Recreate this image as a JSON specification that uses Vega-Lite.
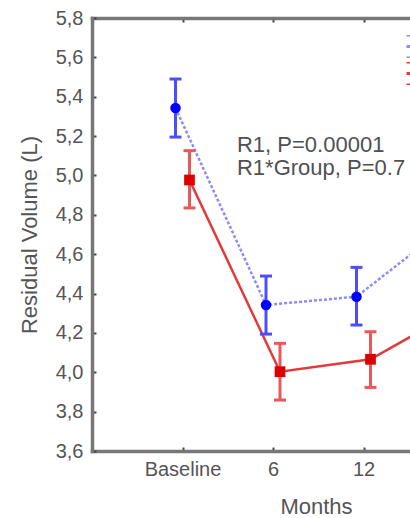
{
  "$schema": "https://vega.github.io/schema/vega-lite/v6.json",
  "width": 318,
  "height": 433,
  "autosize": {"type": "none"},
  "padding": {"left": 92, "top": 18, "right": 0, "bottom": 67},
  "background": "white",
  "config": {
    "view": {"stroke": null},
    "font": "Liberation Sans",
    "axis": {
      "grid": false,
      "domainColor": "#777777",
      "domainWidth": 3.5,
      "domainCap": "square",
      "ticks": true,
      "tickColor": "#444444",
      "tickWidth": 2,
      "tickSize": -4,
      "labelColor": "#555555",
      "labelFont": "Liberation Sans",
      "labelFontSize": 20,
      "labelOverlap": false,
      "titleColor": "#555555",
      "titleFont": "Liberation Sans",
      "titleFontSize": 22,
      "titleFontWeight": "normal"
    }
  },
  "data": {
    "values": [
      {"group": "A", "visit": 0, "month": "Baseline", "mean": 5.343, "lo": 5.195, "hi": 5.49},
      {"group": "A", "visit": 1, "month": "6", "mean": 4.342, "lo": 4.194, "hi": 4.489},
      {"group": "A", "visit": 2, "month": "12", "mean": 4.384, "lo": 4.24, "hi": 4.533},
      {"group": "A", "visit": 3, "month": "24", "mean": 4.742, "lo": 4.6, "hi": 4.89},
      {"group": "B", "visit": 0, "month": "Baseline", "mean": 4.977, "lo": 4.835, "hi": 5.126},
      {"group": "B", "visit": 1, "month": "6", "mean": 4.003, "lo": 3.859, "hi": 4.147},
      {"group": "B", "visit": 2, "month": "12", "mean": 4.066, "lo": 3.923, "hi": 4.206},
      {"group": "B", "visit": 3, "month": "24", "mean": 4.325, "lo": 4.18, "hi": 4.47}
    ]
  },
  "resolve": {"axis": {"x": "independent"}},
  "layer": [
    {
      "transform": [{"filter": "datum.group === 'A'"}],
      "mark": {"type": "line", "clip": true, "xOffset": -7, "strokeWidth": 2.5, "strokeDash": [3, 2]},
      "encoding": {
        "x": {"field": "visit", "type": "quantitative",
              "scale": {"domain": [-1, 2.5138], "nice": false, "zero": false},
              "axis": {"orient": "bottom", "title": "Months", "values": [0, 1, 2], "tickCount": 10,
                       "labelExpr": "['Baseline','6','12','24'][datum.value]",
                       "labelPadding": 12, "titlePadding": 17, "titleX": 224}},
        "y": {"field": "mean", "type": "quantitative",
              "scale": {"domain": [3.6, 5.8], "nice": false, "zero": false},
              "title": "Residual Volume (L)",
              "axis": {"orient": "left", "tickCount": 20,
                       "values": [3.6, 3.8, 4.0, 4.2, 4.4, 4.6, 4.8, 5.0, 5.2, 5.4, 5.6, 5.8],
                       "labelExpr": "replace(format(datum.value, '.1f'), '.', ',')",
                       "labelOverlap": false,
                       "labelPadding": 13, "titlePadding": 14}},
        "color": {"field": "group", "type": "nominal",
                  "scale": {"domain": ["A", "B"], "range": ["#8c8cff", "#e23a3a"]},
                  "legend": {"orient": "none", "legendX": 313, "legendY": 17, "title": null,
                             "symbolType": "M-1,-1H1M-1,1H1M0,-1V1M-1,0H1",
                             "symbolSize": 529, "symbolStrokeWidth": 3,
                             "symbolDash": [],
                             "symbolFillColor": "transparent", "padding": 0,
                             "clipHeight": 23, "rowPadding": 4,
                             "labelExpr": "''", "labelFontSize": 10}}
      }
    },
    {
      "transform": [{"filter": "datum.group === 'B'"}],
      "mark": {"type": "line", "clip": true, "xOffset": 7, "strokeWidth": 2.5},
      "encoding": {
        "x": {"field": "visit", "type": "quantitative",
              "axis": {"orient": "top", "title": null, "labels": false, "values": [0, 1, 2], "tickCount": 10}},
        "y": {"field": "mean", "type": "quantitative", "title": "Residual Volume (L)"},
        "color": {"field": "group", "type": "nominal"}
      }
    },
    {
      "transform": [{"filter": "datum.group === 'A'"}],
      "mark": {"type": "rule", "clip": true, "xOffset": -7, "strokeWidth": 3, "color": "#4d4dff"},
      "encoding": {
        "x": {"field": "visit", "type": "quantitative", "axis": null},
        "y": {"field": "lo", "type": "quantitative", "title": "Residual Volume (L)"},
        "y2": {"field": "hi"}
      }
    },
    {
      "transform": [{"filter": "datum.group === 'A'"}],
      "mark": {"type": "tick", "clip": true, "xOffset": -7, "orient": "horizontal", "size": 12, "thickness": 3, "color": "#4d4dff", "opacity": 1},
      "encoding": {
        "x": {"field": "visit", "type": "quantitative", "axis": null},
        "y": {"field": "lo", "type": "quantitative", "title": "Residual Volume (L)"}
      }
    },
    {
      "transform": [{"filter": "datum.group === 'A'"}],
      "mark": {"type": "tick", "clip": true, "xOffset": -7, "orient": "horizontal", "size": 12, "thickness": 3, "color": "#4d4dff", "opacity": 1},
      "encoding": {
        "x": {"field": "visit", "type": "quantitative", "axis": null},
        "y": {"field": "hi", "type": "quantitative", "title": "Residual Volume (L)"}
      }
    },
    {
      "transform": [{"filter": "datum.group === 'B'"}],
      "mark": {"type": "rule", "clip": true, "xOffset": 7, "strokeWidth": 3, "color": "#e85a5a"},
      "encoding": {
        "x": {"field": "visit", "type": "quantitative", "axis": null},
        "y": {"field": "lo", "type": "quantitative", "title": "Residual Volume (L)"},
        "y2": {"field": "hi"}
      }
    },
    {
      "transform": [{"filter": "datum.group === 'B'"}],
      "mark": {"type": "tick", "clip": true, "xOffset": 7, "orient": "horizontal", "size": 12, "thickness": 3, "color": "#e85a5a", "opacity": 1},
      "encoding": {
        "x": {"field": "visit", "type": "quantitative", "axis": null},
        "y": {"field": "lo", "type": "quantitative", "title": "Residual Volume (L)"}
      }
    },
    {
      "transform": [{"filter": "datum.group === 'B'"}],
      "mark": {"type": "tick", "clip": true, "xOffset": 7, "orient": "horizontal", "size": 12, "thickness": 3, "color": "#e85a5a", "opacity": 1},
      "encoding": {
        "x": {"field": "visit", "type": "quantitative", "axis": null},
        "y": {"field": "hi", "type": "quantitative", "title": "Residual Volume (L)"}
      }
    },
    {
      "transform": [{"filter": "datum.group === 'A'"}],
      "mark": {"type": "point", "clip": true, "xOffset": -7, "shape": "circle", "filled": true, "size": 110, "color": "#0000ff", "opacity": 1},
      "encoding": {
        "x": {"field": "visit", "type": "quantitative", "axis": null},
        "y": {"field": "mean", "type": "quantitative", "title": "Residual Volume (L)"}
      }
    },
    {
      "transform": [{"filter": "datum.group === 'B'"}],
      "mark": {"type": "point", "clip": true, "xOffset": 7, "shape": "square", "filled": true, "size": 115, "color": "#dd0000", "opacity": 1},
      "encoding": {
        "x": {"field": "visit", "type": "quantitative", "axis": null},
        "y": {"field": "mean", "type": "quantitative", "title": "Residual Volume (L)"}
      }
    },
    {
      "data": {"values": [{"label": ["R1, P=0.00001", "R1*Group, P=0.7"]}]},
      "mark": {"type": "text", "align": "left", "baseline": "alphabetic", "fontSize": 22, "lineHeight": 23, "color": "#505050", "font": "Liberation Sans"},
      "encoding": {
        "x": {"datum": 0.602, "type": "quantitative", "axis": null},
        "y": {"datum": 5.117, "type": "quantitative", "title": "Residual Volume (L)"},
        "text": {"field": "label"}
      }
    }
  ]
}
